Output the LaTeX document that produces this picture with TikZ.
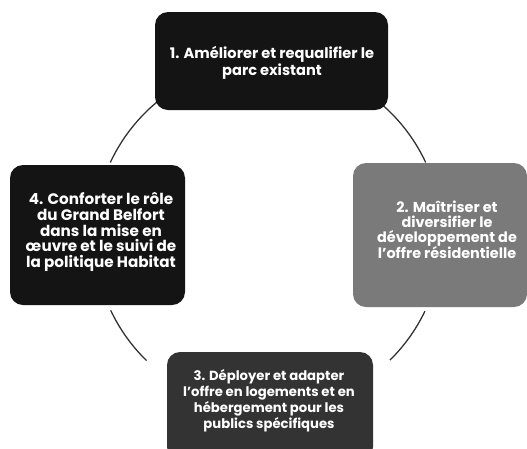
\documentclass[tikz,border=0pt]{standalone}
\usepackage{fontspec}
\setmainfont{Poppins}[UprightFont=* Bold]
\usetikzlibrary{calc}
\begin{document}
\begin{tikzpicture}[x=1pt,y=-1pt,
  boxshape/.style={rounded corners=13pt},
  boxtext/.style={text=white,align=center,inner sep=0pt},
  ring/.style={line width=1.3pt,draw=black!80}]
\clip (0,0) rectangle (527,448);
\useasboundingbox (0,0) rectangle (527,448);
\coordinate (c) at (268,236);
% arcs of the cycle
\draw[ring] ($(c)+(134.3:174)$) arc[start angle=134.3,end angle=154.7,radius=174];
\draw[ring] ($(c)+(45.5:174)$) arc[start angle=45.5,end angle=25.6,radius=174];
\draw[ring] ($(c)+(205:174)$) arc[start angle=205,end angle=232,radius=174];
\draw[ring] ($(c)+(335:174)$) arc[start angle=335,end angle=310,radius=174];
% boxes
\fill[boxshape,fill=black!92] (155,12) rectangle (388,110);
\fill[boxshape,fill=black!52] (353,163) rectangle (527,307);
\fill[boxshape,fill=black!80] (167,352) rectangle (373,460);
\fill[boxshape,fill=black!92] (10,165) rectangle (185,305);
% texts
\node[boxtext,font=\fontsize{14.6}{17}\selectfont] (t1) at (272,63) {1. Améliorer et requalifier le\\parc existant};
\node[boxtext,font=\fontsize{14.4}{14.8}\selectfont] (t2) at (447,230) {2. Maîtriser et\\diversifier le\\développement de\\l'offre résidentielle};
\node[boxtext,font=\fontsize{13.2}{16}\selectfont] (t3) at (269,401) {3. Déployer et adapter\\l'offre en logements et en\\hébergement pour les\\publics spécifiques};
\node[boxtext,font=\fontsize{15.2}{15.8}\selectfont] (t4) at (101,232) {4. Conforter le rôle\\du Grand Belfort\\dans la mise en\\œuvre et le suivi de\\la politique Habitat};
\end{tikzpicture}
\end{document}
